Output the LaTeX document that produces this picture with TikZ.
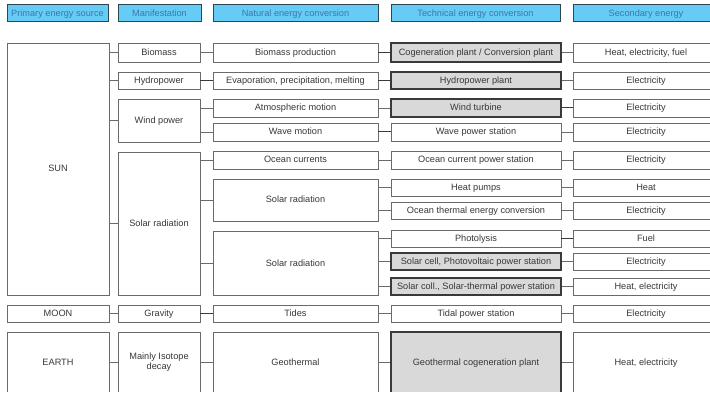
\documentclass[tikz,border=0pt]{standalone}
\usepackage{fontspec}
\setmainfont{Liberation Sans}
\definecolor{hdrfill}{HTML}{66CCF5}
\definecolor{hdrtext}{HTML}{3A78AA}
\definecolor{hdrline}{HTML}{2E4650}
\definecolor{boxline}{HTML}{6A6A6A}
\definecolor{darkline}{HTML}{3A3A3A}
\definecolor{txt}{HTML}{383838}
\definecolor{plantfill}{HTML}{D9D9D9}
\newcommand\ebox[7][plain]{%
  \node[#1, minimum width={(#5-#3)*1pt}, minimum height={(#6-#4)*1pt}]
    (#2) at ({(#3+#5)/2},{(#4+#6)/2}) {#7};}
\begin{document}
\begin{tikzpicture}[x=1pt,y=-1pt,
  base/.style={rectangle, inner sep=0pt, text=txt, text height=7.4pt, text depth=1.4pt,
    font=\fontsize{9.2}{10}\selectfont},
  plain/.style={base, draw=boxline, line width=0.8pt, fill=white},
  plant/.style={base, draw=darkline, line width=1.1pt, fill=plantfill},
  hdr/.style={base, draw=hdrline, line width=1pt, fill=hdrfill, text=hdrtext},
  multi/.style={plain, align=center, text height=, text depth=},
  link/.style={draw=boxline, line width=0.8pt},
  dlink/.style={draw=darkline, line width=1pt}]
\useasboundingbox (0,0) rectangle (710,393);
\clip (0,0) rectangle (710,393);
% headers
\ebox[hdr]{h1}{7}{5}{108}{22}{Primary energy source}
\ebox[hdr]{h2}{118}{5}{201}{22}{Manifestation}
\ebox[hdr]{h3}{213}{5}{378}{22}{Natural energy conversion}
\ebox[hdr]{h4}{391}{5}{560}{22}{Technical energy conversion}
\ebox[hdr]{h5}{573}{5}{719}{22}{Secondary energy}
% column 1
\ebox{sun}{7}{43}{109}{295}{SUN}
\ebox{moon}{7}{305}{109}{322}{MOON}
% column 2
\ebox{mbio}{118}{43}{200}{62}{Biomass}
\ebox{mhyd}{118}{72}{200}{89}{Hydropower}
\ebox{mwind}{118}{99}{200}{142}{Wind power}
\ebox{msol}{118}{152}{200}{295}{Solar radiation}
\ebox{mgrav}{118}{305}{200}{322}{Gravity}
% column 3
\ebox{nbio}{213}{43}{378}{62}{Biomass production}
\ebox{nhyd}{213}{72}{378}{89}{Evaporation, precipitation, melting}
\ebox{natm}{213}{99}{378}{117}{Atmospheric motion}
\ebox{nwave}{213}{123}{378}{141}{Wave motion}
\ebox{nocean}{213}{151}{378}{169}{Ocean currents}
\ebox{nsolA}{213}{179}{378}{221}{Solar radiation}
\ebox{nsolB}{213}{231}{378}{295}{Solar radiation}
\ebox{ntide}{213}{305}{378}{322}{Tides}
% column 4
\ebox[plant]{tbio}{391}{43}{561}{62}{Cogeneration plant / Conversion plant}
\ebox[plant]{thyd}{391}{72}{561}{89}{Hydropower plant}
\ebox[plant]{tatm}{391}{99}{561}{117}{Wind turbine}
\ebox{twave}{391}{123}{561}{141}{Wave power station}
\ebox{tocean}{391}{151}{561}{169}{Ocean current power station}
\ebox{theat}{391}{179}{561}{196}{Heat pumps}
\ebox{totec}{391}{202}{561}{219}{Ocean thermal energy conversion}
\ebox{tphoto}{391}{230}{561}{247}{Photolysis}
\ebox[plant]{tpv}{391}{253}{561}{270}{Solar cell, Photovoltaic power station}
\ebox[plant]{tcoll}{391}{278}{561}{295}{Solar coll., Solar-thermal power station}
\ebox{ttide}{391}{305}{561}{322}{Tidal power station}
% column 5
\ebox{sbio}{573}{43}{719}{62}{Heat, electricity, fuel}
\ebox{shyd}{573}{72}{719}{89}{Electricity}
\ebox{satm}{573}{99}{719}{117}{Electricity}
\ebox{swave}{573}{123}{719}{141}{Electricity}
\ebox{socean}{573}{151}{719}{169}{Electricity}
\ebox{sheat}{573}{179}{719}{196}{Heat}
\ebox{sotec}{573}{202}{719}{219}{Electricity}
\ebox{sphoto}{573}{230}{719}{247}{Fuel}
\ebox{spv}{573}{253}{719}{270}{Electricity}
\ebox{scoll}{573}{278}{719}{295}{Heat, electricity}
\ebox{stide}{573}{305}{719}{322}{Electricity}
% EARTH row, cut off at the lower edge
\begin{scope}
\clip (0,0) rectangle (710,391.2);
\ebox{earth}{7}{332}{109}{393}{EARTH}
\ebox[multi]{miso}{118}{332}{200}{393}{Mainly Isotope\\decay}
\ebox{ngeo}{213}{332}{378}{393}{Geothermal}
\ebox[plant]{tgeo}{391}{332}{561}{393}{Geothermal cogeneration plant}
\ebox{sgeo}{573}{332}{719}{393}{Heat, electricity}
\end{scope}
% connectors column 1 -> 2
\foreach \m in {mbio,mhyd,mwind,msol}
  \draw[link] (sun.east |- \m.west) -- (\m.west);
\draw[link] (moon) -- (mgrav);
\draw[link] (earth.east |- miso.west) -- (miso.west);
% column 2 -> 3
\draw[link] (mbio) -- (nbio);
\draw[dlink] (mhyd) -- (nhyd);
\foreach \n in {natm,nwave}
  \draw[link] (mwind.east |- \n.west) -- (\n.west);
\foreach \n in {nocean,nsolA,nsolB}
  \draw[link] (msol.east |- \n.west) -- (\n.west);
\draw[dlink] (mgrav) -- (ntide);
\draw[link] (miso.east |- ngeo.west) -- (ngeo.west);
% column 3 -> 4
\draw[dlink] (nbio) -- (tbio);
\draw[dlink] (nhyd) -- (thyd);
\draw[link] (natm) -- (tatm);
\draw[dlink] (nwave) -- (twave);
\draw[link] (nocean) -- (tocean);
\foreach \t in {theat,totec}
  \draw[link] (nsolA.east |- \t.west) -- (\t.west);
\foreach \t in {tphoto,tpv,tcoll}
  \draw[link] (nsolB.east |- \t.west) -- (\t.west);
\draw[link] (ntide) -- (ttide);
\draw[link] (ngeo.east |- tgeo.west) -- (tgeo.west);
% column 4 -> 5
\draw[link] (tbio) -- (sbio);
\draw[link] (thyd) -- (shyd);
\draw[dlink] (tatm) -- (satm);
\draw[link] (twave) -- (swave);
\draw[link] (tocean) -- (socean);
\draw[link] (theat) -- (sheat);
\draw[link] (totec) -- (sotec);
\draw[dlink] (tphoto) -- (sphoto);
\draw[link] (tpv) -- (spv);
\draw[link] (tcoll) -- (scoll);
\draw[link] (ttide) -- (stide);
\draw[link] (tgeo.east |- sgeo.west) -- (sgeo.west);
\end{tikzpicture}
\end{document}
